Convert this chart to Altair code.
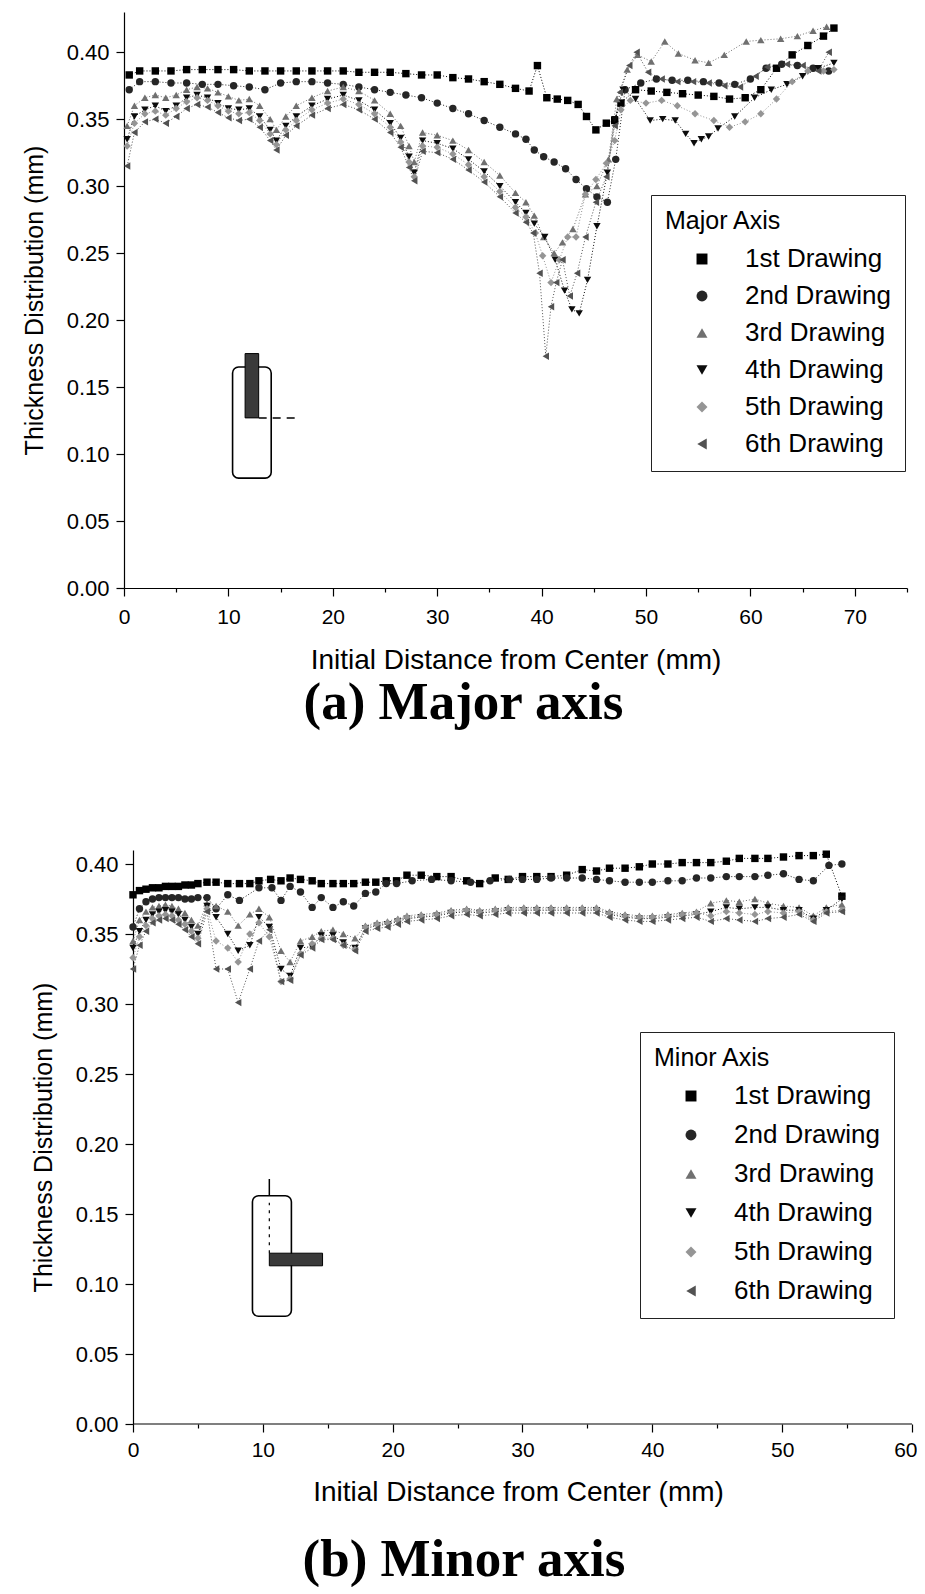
import altair as alt
import pandas as pd

SERIES = ["1st Drawing", "2nd Drawing", "3rd Drawing", "4th Drawing", "5th Drawing", "6th Drawing"]
COLORS = ["#000000", "#262626", "#707070", "#0c0c0c", "#959595", "#525252"]
SHAPES = ["square", "circle", "triangle-up", "triangle-down", "diamond", "triangle-left"]

# ---------------- (a) Major axis ----------------
A1_X = [0.5, 1.5, 3, 4.5, 6, 7.5, 9, 10.5, 12, 13.5, 15, 16.5, 18, 19.5, 21, 22.5, 24, 25.5, 27, 28.5,
        30, 31.5, 33, 34.5, 36, 37.5, 38.8, 39.6, 40.5, 41.5, 42.5, 43.5, 44.3, 45.2, 46.2, 47.0, 47.6,
        49, 50.5, 52, 53.5, 55, 56.5, 58, 59.5, 61, 62.5, 64, 65.5, 67, 68]
A1_Y = [0.383, 0.386, 0.386, 0.386, 0.387, 0.387, 0.387, 0.387, 0.386, 0.386, 0.386, 0.386, 0.386, 0.386,
        0.386, 0.385, 0.385, 0.385, 0.384, 0.383, 0.383, 0.381, 0.380, 0.378, 0.376, 0.373, 0.371, 0.390,
        0.366, 0.365, 0.364, 0.361, 0.352, 0.342, 0.347, 0.349, 0.362, 0.372, 0.371, 0.370, 0.369, 0.368,
        0.367, 0.365, 0.366, 0.372, 0.388, 0.398, 0.405, 0.412, 0.418]

A2_X = [0.5, 1.5, 3, 4.5, 6, 7.5, 9, 10.5, 12, 13.5, 15, 16.5, 18, 19.5, 21, 22.5, 24, 25.5, 27, 28.5,
        30, 31.5, 33, 34.5, 36, 37.5, 38.5, 39.3, 40.2, 41.2, 42.3, 43.3, 44.3, 45.3, 46.3, 47.1, 48,
        49.5, 51, 52.5, 54, 55.5, 57, 58.5, 60, 61.5, 63, 64.5, 66, 67.5]
A2_Y = [0.372, 0.378, 0.378, 0.377, 0.377, 0.376, 0.376, 0.375, 0.374, 0.372, 0.377, 0.378, 0.378, 0.377,
        0.376, 0.374, 0.372, 0.370, 0.368, 0.366, 0.362, 0.358, 0.354, 0.349, 0.344, 0.339, 0.335, 0.327,
        0.322, 0.318, 0.313, 0.305, 0.298, 0.292, 0.288, 0.320, 0.372, 0.377, 0.380, 0.379, 0.379, 0.378,
        0.377, 0.376, 0.380, 0.388, 0.391, 0.390, 0.388, 0.386]

A_BAND_X = [0.3, 1, 2, 3, 4, 5, 6, 7, 8, 9, 10, 11, 12, 13, 14, 14.6, 15.5, 16.5, 18, 19.5, 21, 22.5,
            24, 25.5, 26.5, 27.3, 27.8, 28.6, 30, 31.5, 33, 34.5, 36, 37.5, 38.5]

A3_Y_LEFT = [0.345, 0.360, 0.366, 0.368, 0.366, 0.368, 0.372, 0.374, 0.373, 0.370, 0.367, 0.364, 0.365,
             0.360, 0.350, 0.342, 0.352, 0.360, 0.366, 0.371, 0.374, 0.371, 0.364, 0.354, 0.345, 0.330,
             0.318, 0.340, 0.338, 0.334, 0.327, 0.318, 0.308, 0.295, 0.288]
A3_X_RIGHT = [39.3, 40.2, 41.2, 42.0, 43.0, 44.2, 45.3, 46.4, 47.2, 48.2, 49.2, 50.5, 51.8, 53.1, 54.7,
              56, 57.5, 59.6, 61, 62.9, 64.5, 66, 67.3]
A3_Y_RIGHT = [0.278, 0.262, 0.250, 0.258, 0.268, 0.294, 0.300, 0.320, 0.365, 0.387, 0.398, 0.393, 0.408,
              0.399, 0.394, 0.392, 0.398, 0.408, 0.409, 0.410, 0.412, 0.416, 0.419]

A4_Y_LEFT = [0.335, 0.352, 0.357, 0.360, 0.356, 0.360, 0.366, 0.368, 0.366, 0.362, 0.358, 0.357, 0.358,
             0.352, 0.342, 0.334, 0.345, 0.352, 0.360, 0.365, 0.368, 0.364, 0.357, 0.347, 0.336, 0.322,
             0.310, 0.334, 0.332, 0.328, 0.320, 0.311, 0.300, 0.288, 0.280]
A4_X_RIGHT = [39.3, 40.3, 41.3, 42.2, 42.9, 43.6, 44.4, 45.3, 46.3, 47.0, 47.8, 49, 50.4, 51.6, 52.8,
              53.8, 54.6, 55.3, 56, 56.9, 58.5, 60.4, 62, 63.5, 65, 66.5, 68]
A4_Y_RIGHT = [0.272, 0.262, 0.245, 0.222, 0.208, 0.205, 0.230, 0.270, 0.310, 0.350, 0.372, 0.365, 0.349,
              0.350, 0.349, 0.339, 0.332, 0.335, 0.337, 0.343, 0.352, 0.366, 0.372, 0.376, 0.382, 0.388,
              0.392]

A5_Y_LEFT = [0.330, 0.347, 0.354, 0.356, 0.353, 0.358, 0.363, 0.366, 0.364, 0.360, 0.356, 0.354, 0.355,
             0.349, 0.339, 0.331, 0.342, 0.349, 0.357, 0.362, 0.365, 0.361, 0.354, 0.344, 0.333, 0.318,
             0.307, 0.330, 0.329, 0.324, 0.316, 0.307, 0.296, 0.284, 0.277]
A5_X_RIGHT = [39.4, 40.1, 40.9, 41.7, 42.5, 43.3, 44.2, 45.2, 46.2, 47.0, 47.6, 48.5, 50, 51.5, 53,
              54.7, 56.5, 58, 59.5, 61, 62.5, 64, 65.5, 67, 68]
A5_Y_RIGHT = [0.265, 0.248, 0.228, 0.245, 0.262, 0.262, 0.294, 0.305, 0.317, 0.334, 0.357, 0.364, 0.362,
              0.364, 0.360, 0.354, 0.349, 0.344, 0.348, 0.354, 0.365, 0.378, 0.386, 0.386, 0.387]

A6_Y_LEFT = [0.315, 0.340, 0.348, 0.350, 0.347, 0.352, 0.358, 0.361, 0.359, 0.355, 0.351, 0.349, 0.350,
             0.344, 0.334, 0.327, 0.338, 0.345, 0.353, 0.358, 0.361, 0.357, 0.350, 0.340, 0.329, 0.314,
             0.304, 0.326, 0.325, 0.320, 0.312, 0.303, 0.292, 0.280, 0.273]
A6_X_RIGHT = [39.2, 39.8, 40.4, 40.9, 41.4, 42.0, 42.7, 43.4, 44.2, 45.2, 46.2, 47.0, 47.5, 48.4, 49.1,
              50.2, 51.5, 53, 54.5, 56, 57.5, 59, 60.5, 61.6, 63.5, 65, 66.5, 67.5]
A6_Y_RIGHT = [0.265, 0.235, 0.173, 0.210, 0.228, 0.245, 0.218, 0.235, 0.262, 0.288, 0.307, 0.345, 0.370,
              0.390, 0.400, 0.385, 0.380, 0.378, 0.378, 0.377, 0.375, 0.374, 0.382, 0.389, 0.391, 0.390,
              0.386, 0.400]

# ---------------- (b) Minor axis ----------------
B_LEFT_X = [0, 0.5, 1, 1.5, 2, 2.5, 3, 3.5, 4, 4.5, 5]

B1_Y_LEFT = [0.378, 0.381, 0.382, 0.383, 0.383, 0.384, 0.384, 0.384, 0.385, 0.385, 0.386]
B1_X_RIGHT = [5.7, 6.4, 7.3, 8.2, 9.0, 9.7, 10.6, 11.4, 12.1, 12.9, 13.8, 14.5, 15.4, 16.2, 17.0, 17.9,
              18.7, 19.5, 20.3, 21.1, 22.2, 23.4, 24.5, 25.7, 26.7, 27.9, 28.9, 30.0, 31.1, 32.2, 33.4,
              34.6, 35.7, 36.7, 37.9, 39.0, 40.0, 41.2, 42.3, 43.4, 44.5, 45.7, 46.7, 47.9, 48.9, 50.1,
              51.3, 52.4, 53.4, 54.6]
B1_Y_RIGHT = [0.387, 0.387, 0.386, 0.386, 0.386, 0.388, 0.389, 0.388, 0.390, 0.389, 0.388, 0.386, 0.386,
              0.386, 0.386, 0.387, 0.387, 0.388, 0.388, 0.392, 0.392, 0.391, 0.391, 0.388, 0.386, 0.390,
              0.389, 0.391, 0.391, 0.391, 0.392, 0.396, 0.395, 0.397, 0.397, 0.398, 0.400, 0.400, 0.401,
              0.401, 0.401, 0.402, 0.404, 0.404, 0.404, 0.405, 0.406, 0.406, 0.407, 0.377]

B2_Y_LEFT = [0.355, 0.368, 0.373, 0.375, 0.376, 0.376, 0.376, 0.376, 0.375, 0.375, 0.376]
B2_X_RIGHT = [5.7, 6.4, 7.3, 8.2, 9.7, 10.7, 11.4, 12.1, 12.9, 13.8, 14.5, 15.4, 16.2, 17.0, 17.9, 18.7,
              19.5, 20.3, 21.5, 23, 24.5, 26, 27.5, 29, 30.0, 31.1, 32.2, 33.4, 34.6, 35.7, 36.7, 37.9,
              39.0, 40.0, 41.2, 42.3, 43.4, 44.5, 45.7, 46.7, 47.9, 48.9, 50.1, 51.3, 52.4, 53.6, 54.6]
B2_Y_RIGHT = [0.376, 0.368, 0.378, 0.374, 0.383, 0.383, 0.374, 0.384, 0.380, 0.369, 0.376, 0.369, 0.373,
              0.370, 0.379, 0.380, 0.386, 0.386, 0.388, 0.389, 0.388, 0.387, 0.388, 0.389, 0.389, 0.389,
              0.390, 0.390, 0.390, 0.389, 0.388, 0.387, 0.387, 0.387, 0.388, 0.388, 0.390, 0.390, 0.391,
              0.391, 0.391, 0.392, 0.393, 0.389, 0.388, 0.399, 0.400]

B_MID_X = [5.7, 6.4, 7.3, 8.1, 9.0, 9.7, 10.5, 11.4, 12.1, 12.9, 13.8, 14.5, 15.4, 16.2, 17.1]
B_BAND_X = [17.9, 18.8, 19.6, 20.4, 21.1, 22.2, 23.4, 24.5, 25.7, 26.7, 27.9, 28.9, 30.1, 31.1, 32.2,
            33.4, 34.6, 35.7, 36.7, 37.9, 39.0, 40.0, 41.2, 42.3, 43.4, 44.5, 45.7, 46.7, 47.9, 48.9,
            50.1, 51.3, 52.4, 53.4, 54.6]

B3_Y_LEFT = [0.345, 0.360, 0.366, 0.369, 0.370, 0.371, 0.370, 0.368, 0.365, 0.360, 0.356]
B3_Y_MID = [0.372, 0.370, 0.366, 0.356, 0.364, 0.368, 0.362, 0.338, 0.330, 0.345, 0.348, 0.352, 0.353,
            0.350, 0.347]
B3_Y_BAND = [0.356, 0.358, 0.359, 0.361, 0.363, 0.364, 0.365, 0.367, 0.368, 0.367, 0.368, 0.369, 0.369,
             0.369, 0.369, 0.369, 0.369, 0.369, 0.366, 0.364, 0.363, 0.363, 0.364, 0.365, 0.366, 0.372,
             0.374, 0.373, 0.375, 0.372, 0.370, 0.369, 0.363, 0.369, 0.371]

B4_Y_LEFT = [0.340, 0.352, 0.360, 0.364, 0.366, 0.367, 0.366, 0.364, 0.360, 0.355, 0.350]
B4_Y_MID = [0.370, 0.362, 0.350, 0.338, 0.342, 0.362, 0.355, 0.325, 0.320, 0.340, 0.341, 0.349, 0.349,
            0.344, 0.340]
B4_Y_BAND = [0.354, 0.356, 0.357, 0.359, 0.361, 0.362, 0.363, 0.365, 0.366, 0.365, 0.366, 0.367, 0.367,
             0.367, 0.367, 0.367, 0.367, 0.367, 0.364, 0.362, 0.361, 0.361, 0.362, 0.363, 0.364, 0.366,
             0.369, 0.368, 0.369, 0.369, 0.367, 0.367, 0.361, 0.367, 0.375]

B5_Y_LEFT = [0.333, 0.348, 0.356, 0.361, 0.363, 0.364, 0.363, 0.360, 0.357, 0.352, 0.347]
B5_Y_MID = [0.368, 0.345, 0.340, 0.330, 0.350, 0.358, 0.348, 0.316, 0.318, 0.336, 0.343, 0.347, 0.347,
            0.342, 0.339]
B5_Y_BAND = [0.355, 0.357, 0.358, 0.360, 0.362, 0.363, 0.364, 0.366, 0.367, 0.366, 0.367, 0.368, 0.368,
             0.368, 0.368, 0.368, 0.368, 0.368, 0.365, 0.363, 0.362, 0.362, 0.363, 0.364, 0.365, 0.363,
             0.366, 0.365, 0.364, 0.366, 0.365, 0.366, 0.360, 0.366, 0.367]

B6_Y_LEFT = [0.325, 0.342, 0.352, 0.358, 0.360, 0.361, 0.360, 0.357, 0.353, 0.348, 0.343]
B6_Y_MID = [0.366, 0.325, 0.325, 0.301, 0.325, 0.345, 0.353, 0.316, 0.317, 0.335, 0.340, 0.346, 0.346,
            0.342, 0.338]
B6_Y_BAND = [0.352, 0.354, 0.355, 0.357, 0.359, 0.360, 0.361, 0.363, 0.364, 0.363, 0.364, 0.365, 0.365,
             0.365, 0.365, 0.365, 0.365, 0.365, 0.362, 0.360, 0.359, 0.359, 0.360, 0.361, 0.362, 0.359,
             0.361, 0.360, 0.359, 0.361, 0.362, 0.364, 0.359, 0.365, 0.366]

# axis tick positions (major + minor)
A_X_TICKS = [0, 5, 10, 15, 20, 25, 30, 35, 40, 45, 50, 55, 60, 65, 70, 75]
A_Y_TICKS = [0.0, 0.025, 0.05, 0.075, 0.1, 0.125, 0.15, 0.175, 0.2, 0.225, 0.25, 0.275, 0.3, 0.325,
             0.35, 0.375, 0.4, 0.425]
B_X_TICKS = [0, 5, 10, 15, 20, 25, 30, 35, 40, 45, 50, 55, 60]
B_Y_TICKS = [0.0, 0.025, 0.05, 0.075, 0.1, 0.125, 0.15, 0.175, 0.2, 0.225, 0.25, 0.275, 0.3, 0.325,
             0.35, 0.375, 0.4]

# inset sketches (data units)
A_INSET_BOX = {"x": [10.4], "x2": [14.1], "y": [0.082], "y2": [0.165]}
A_INSET_STRIP = {"x": [11.6], "x2": [12.9], "y": [0.127], "y2": [0.175]}
A_INSET_LINE = {"x": [12.9], "x2": [16.7], "y": [0.127]}
B_INSET_BOX = {"x": [9.2], "x2": [12.2], "y": [0.077], "y2": [0.163]}
B_INSET_STRIP = {"x": [10.5], "x2": [14.6], "y": [0.113], "y2": [0.122]}
B_INSET_STEM = {"x": [10.5], "y": [0.163], "y2": [0.175]}
B_INSET_DASH = {"x": [10.5], "y": [0.122], "y2": [0.158]}


def frame(parts):
    rows = []
    for name, xs, ys in parts:
        for i, (xv, yv) in enumerate(zip(xs, ys)):
            rows.append({"series": name, "x": xv, "y": yv, "order": i})
    return pd.DataFrame(rows)


top_df = frame([
    (SERIES[0], A1_X, A1_Y),
    (SERIES[1], A2_X, A2_Y),
    (SERIES[2], A_BAND_X + A3_X_RIGHT, A3_Y_LEFT + A3_Y_RIGHT),
    (SERIES[3], A_BAND_X + A4_X_RIGHT, A4_Y_LEFT + A4_Y_RIGHT),
    (SERIES[4], A_BAND_X + A5_X_RIGHT, A5_Y_LEFT + A5_Y_RIGHT),
    (SERIES[5], A_BAND_X + A6_X_RIGHT, A6_Y_LEFT + A6_Y_RIGHT),
])
bot_df = frame([
    (SERIES[0], B_LEFT_X + B1_X_RIGHT, B1_Y_LEFT + B1_Y_RIGHT),
    (SERIES[1], B_LEFT_X + B2_X_RIGHT, B2_Y_LEFT + B2_Y_RIGHT),
    (SERIES[2], B_LEFT_X + B_MID_X + B_BAND_X, B3_Y_LEFT + B3_Y_MID + B3_Y_BAND),
    (SERIES[3], B_LEFT_X + B_MID_X + B_BAND_X, B4_Y_LEFT + B4_Y_MID + B4_Y_BAND),
    (SERIES[4], B_LEFT_X + B_MID_X + B_BAND_X, B5_Y_LEFT + B5_Y_MID + B5_Y_BAND),
    (SERIES[5], B_LEFT_X + B_MID_X + B_BAND_X, B6_Y_LEFT + B6_Y_MID + B6_Y_BAND),
])

FONT = "Liberation Sans"
MAJ_Y = "abs(datum.value*20 - round(datum.value*20)) < 0.01"
MAJ_X = "abs(datum.value/10 - round(datum.value/10)) < 0.01"


def panel(df, xdom, ydom, xticks, yticks, w, h, legend_title, lx, ly, row_pad, caption, cap_dx,
          cap_offset, y_offset, insets, x_domain_line, last_x, lab_pad, tit_pad):
    xaxis = alt.Axis(
        values=xticks, title="Initial Distance from Center (mm)",
        labelExpr=f"{MAJ_X} ? format(datum.value, 'd') : ''",
        tickSize={"condition": {"test": MAJ_X, "value": 8}, "value": 4},
        labelAlign={"condition": {"test": f"datum.value == {last_x}", "value": "right"},
                    "value": "center"},
        labelOffset={"condition": {"test": f"datum.value == {last_x}", "value": 5}, "value": 0},
        labelPadding=lab_pad, titlePadding=tit_pad, grid=False, domain=x_domain_line,
        labelFontSize=21, titleFontSize=28, labelFlush=False,
    )
    yaxis = alt.Axis(
        values=yticks, title="Thickness Distribution (mm)",
        labelExpr=f"{MAJ_Y} ? format(datum.value, '.2f') : ''",
        tickSize={"condition": {"test": MAJ_Y, "value": 8}, "value": 4},
        labelPadding=7, titlePadding=19, grid=False, offset=y_offset,
        labelFontSize=22, titleFontSize=25, labelFlush=False,
    )
    legend = alt.Legend(
        title=legend_title, orient="none", legendX=lx, legendY=ly, direction="vertical",
        strokeColor="#222222", fillColor="white", padding=14, cornerRadius=0,
        titleFontSize=25, labelFontSize=26, titleFont=FONT, labelFont=FONT,
        titleFontWeight="normal", titleColor="black", labelColor="black",
        symbolSize=120, rowPadding=row_pad, titlePadding=12, symbolStrokeWidth=0,
        symbolOffset=24, labelOffset=30,
    )
    xs = alt.Scale(domain=xdom, nice=False, zero=False)
    ys = alt.Scale(domain=ydom, nice=False)

    base = alt.Chart(df)
    lines = base.mark_line(strokeDash=[1, 2], strokeWidth=1).encode(
        x=alt.X("x:Q", scale=xs, axis=xaxis),
        y=alt.Y("y:Q", scale=ys, axis=yaxis),
        stroke=alt.Stroke("series:N", scale=alt.Scale(domain=SERIES, range=COLORS), legend=None),
        detail="series:N", order="order:Q",
    )
    points = base.mark_point(filled=True, size=55, opacity=1).encode(
        x="x:Q", y="y:Q",
        color=alt.Color("series:N", scale=alt.Scale(domain=SERIES, range=COLORS), legend=legend),
        shape=alt.Shape("series:N", scale=alt.Scale(domain=SERIES, range=SHAPES), legend=legend),
    )
    layers = [lines, points] + insets
    return alt.layer(*layers).resolve_scale(stroke="independent").properties(
        width=w, height=h,
        title=alt.TitleParams(caption, orient="bottom", anchor="middle", frame="group",
                              font="Liberation Serif", fontSize=53, fontWeight="bold",
                              color="black", offset=cap_offset, dx=cap_dx),
    )


top_insets = [
    alt.Chart(pd.DataFrame(A_INSET_BOX)).mark_rect(fillOpacity=0, stroke="black", strokeWidth=1.6,
                                                    cornerRadius=6).encode(
        x="x:Q", x2="x2:Q", y="y:Q", y2="y2:Q"),
    alt.Chart(pd.DataFrame(A_INSET_STRIP)).mark_rect(fill="#3a3a3a", stroke="black",
                                                      strokeWidth=1).encode(
        x="x:Q", x2="x2:Q", y="y:Q", y2="y2:Q"),
    alt.Chart(pd.DataFrame(A_INSET_LINE)).mark_rule(stroke="black", strokeWidth=1.5,
                                                     strokeDash=[8, 6]).encode(
        x="x:Q", x2="x2:Q", y="y:Q"),
]
bot_insets = [
    alt.Chart(pd.DataFrame(B_INSET_BOX)).mark_rect(fillOpacity=0, stroke="black", strokeWidth=1.6,
                                                    cornerRadius=6).encode(
        x="x:Q", x2="x2:Q", y="y:Q", y2="y2:Q"),
    alt.Chart(pd.DataFrame(B_INSET_STRIP)).mark_rect(fill="#3a3a3a", stroke="black",
                                                      strokeWidth=1).encode(
        x="x:Q", x2="x2:Q", y="y:Q", y2="y2:Q"),
    alt.Chart(pd.DataFrame(B_INSET_STEM)).mark_rule(stroke="black", strokeWidth=1.5).encode(
        x="x:Q", y="y:Q", y2="y2:Q"),
    alt.Chart(pd.DataFrame(B_INSET_DASH)).mark_rule(stroke="black", strokeWidth=1.2,
                                                     strokeDash=[3, 5]).encode(
        x="x:Q", y="y:Q", y2="y2:Q"),
    alt.Chart(pd.DataFrame({"x": [0], "x2": [60], "y": [0]})).mark_rule(
        stroke="black", strokeWidth=1.2).encode(x="x:Q", x2="x2:Q", y="y:Q"),
]

top = panel(top_df, [0, 75], [0, 0.43], A_X_TICKS, A_Y_TICKS, 783, 576,
            "Major Axis", 527, 183, 11, "(a) Major axis", -52, 3, 0, top_insets, True, 999, 10, 19)
bottom = panel(bot_df, [-0.693, 60], [0, 0.41], B_X_TICKS, B_Y_TICKS, 788, 574,
               "Minor Axis", 516, 182, 13, "(b) Minor axis", -54, 28, -9, bot_insets, False, 60,
               7, 18)

chart = alt.vconcat(top, bottom, spacing=120).resolve_scale(
    color="independent", shape="independent"
).properties(
    padding={"left": 14, "top": 4, "right": 0, "bottom": 0}
).configure_view(stroke=None).configure_axis(
    labelFont=FONT, titleFont=FONT, labelColor="black", titleColor="black",
    domainColor="black", tickColor="black", titleFontWeight="normal", domainWidth=1.2,
    tickWidth=1.2,
)

chart.save("out.html", embed_options={"renderer": "svg", "actions": False})
